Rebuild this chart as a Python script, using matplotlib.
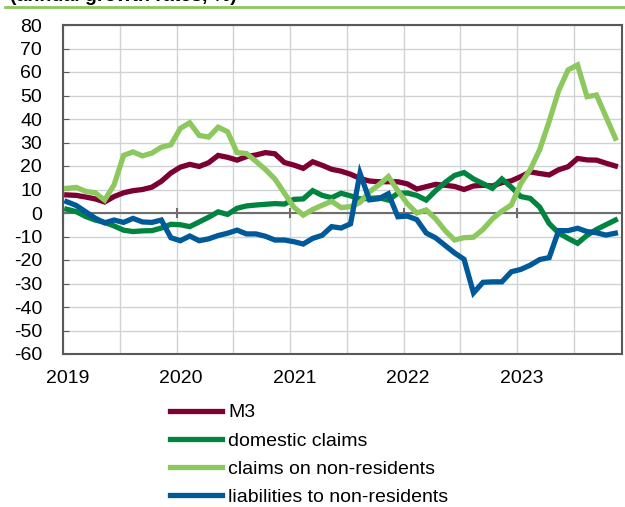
import matplotlib
matplotlib.use("Agg")
import matplotlib.pyplot as plt
import numpy as np

plt.rcParams['font.family'] = ['Liberation Sans', 'DejaVu Sans']

# monthly values, Jan 2019 - Nov 2023
m3 = [7.7, 7.5, 6.8, 6.0, 4.7, 7.0, 8.6, 9.5, 10.0, 11.0, 13.5, 17.0,
      19.5, 20.7, 19.8, 21.4, 24.5, 23.7, 22.5, 24.0, 24.7, 25.7, 25.2, 21.5,
      20.4, 19.0, 21.8, 20.3, 18.6, 17.8, 16.5, 14.7, 13.6, 13.3, 13.3, 13.3,
      12.4, 10.2, 11.2, 12.2, 11.8, 11.3, 10.0, 11.5, 11.8, 11.5, 12.9, 13.7,
      15.5, 17.5, 16.8, 16.2, 18.4, 19.7, 23.2, 22.6, 22.5, 21.2, 20.0]
domestic = [1.6, 0.6, -1.5, -3.0, -4.0, -5.5, -7.3, -7.9, -7.6, -7.5, -6.4, -4.8,
            -5.0, -5.8, -3.8, -1.8, 0.5, -0.6, 2.0, 3.0, 3.4, 3.7, 4.0, 3.8,
            5.8, 6.0, 9.5, 7.5, 6.5, 8.4, 7.3, 6.0, 6.2, 6.5, 5.5, 8.4,
            8.5, 7.5, 5.5, 9.5, 13.0, 16.0, 17.2, 14.5, 12.5, 10.5, 14.5, 11.0,
            7.0, 6.2, 2.5, -4.5, -8.5, -10.8, -12.9, -9.5, -7.0, -5.0, -3.0]
claims_nonres = [10.5, 10.9, 9.2, 8.6, 5.5, 12.0, 24.5, 26.0, 24.3, 25.5, 28.0, 29.0,
                 36.0, 38.4, 33.0, 32.3, 36.5, 34.6, 25.7, 25.3, 22.0, 18.5, 14.5, 8.5,
                 2.5, -0.9, 1.5, 3.3, 5.0, 2.3, 2.7, 4.5, 9.0, 12.0, 15.5, 9.5,
                 4.0, 0.0, 1.3, -2.5, -7.5, -11.5, -10.5, -10.3, -7.0, -2.5, 0.8, 3.4,
                 12.5, 18.5, 27.0, 39.0, 52.0, 60.9, 63.0, 49.5, 50.2, 41.0, 31.8]
liab_nonres = [4.8, 3.2, 0.5, -2.2, -4.2, -3.0, -4.0, -2.3, -3.8, -4.0, -3.0, -10.5,
               -11.8, -9.8, -11.8, -11.0, -9.6, -8.6, -7.3, -8.9, -8.9, -9.9, -11.5, -11.5,
               -12.2, -13.2, -10.8, -9.5, -5.8, -6.4, -4.6, 16.9, 5.6, 6.1, 8.2, -1.6,
               -1.3, -2.8, -8.5, -10.6, -13.8, -17.0, -19.7, -34.0, -29.5, -29.3, -29.3, -25.0,
               -24.0, -22.2, -19.8, -19.0, -7.5, -7.5, -6.5, -7.9, -8.4, -9.4, -8.6]
years = ["2019", "2020", "2021", "2022", "2023"]

labels = ["M3", "domestic claims", "claims on non-residents", "liabilities to non-residents"]
colors = ["#7D0033", "#00843F", "#8DC85E", "#005A9A"]
series = [m3, domestic, claims_nonres, liab_nonres]

x = np.arange(len(m3)) + 0.4

fig = plt.figure(figsize=(6.25, 5.07), dpi=100)
ax = fig.add_axes([63/625, 1-354/507, 559/625, 329/507])

for s, c, l in zip(series, colors, labels):
    ax.plot(x, s, color=c, lw=3.8, label=l, solid_joinstyle='miter', zorder=3)

ax.set_xlim(0, 59.1)
ax.set_ylim(-60, 80)
ax.set_yticks(np.arange(-60, 81, 10))
ax.set_xticks(np.arange(0, 60, 6))
ax.set_xticklabels([])
ax.tick_params(axis='x', length=0)
ax.tick_params(axis='y', direction='in', length=4, color='#595959', labelsize=14, pad=15)
ax.grid(True, color='#D0D3D6', lw=1.0, zorder=0)
for sp in ax.spines.values():
    sp.set_color('#595959')
    sp.set_linewidth(1.5)

# zero line with year ticks
ax.axhline(0, color='#6E6E6E', lw=1.5, zorder=2)
for i in range(len(years)):
    ax.plot([12*i, 12*i], [-1.5, 1.5], color='#6E6E6E', lw=1.5, zorder=2, clip_on=False)
    ax.text(12*i + 0.5, -67, years[i], ha='center', va='top', fontsize=14)
ax.set_yticklabels([str(v) for v in range(-60, 81, 10)], ha='right')

# header rule and title (cut off at the top as in the source)
fig.add_artist(plt.Line2D([5/625, 1], [1-7/507, 1-7/507], color='#8DC85E', lw=2))
fig.text(10/625, 1-1/507, "(annual growth rates, %)", fontsize=14, fontweight='bold',
         ha='left', va='baseline')

fig.legend(loc='upper left', bbox_to_anchor=(160/625, 1-394/507), frameon=False,
           fontsize=14, handlelength=2.7, handletextpad=0.3, labelspacing=0.55,
           borderpad=0)

fig.savefig("out.png", dpi=100)
